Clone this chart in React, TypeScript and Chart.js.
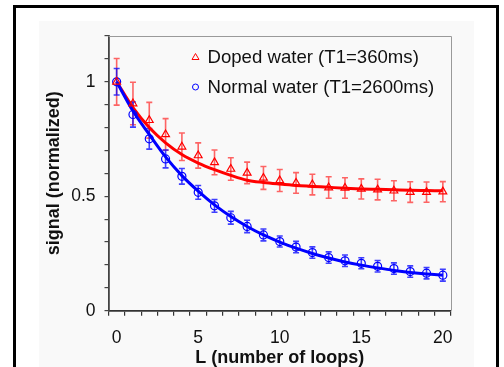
import { useEffect, useRef } from 'react';
import { Chart, registerables } from 'chart.js';

Chart.register(...registerables);

const loops = ['0', '1', '2', '3', '4', '5', '6', '7', '8', '9', '10', '11', '12', '13', '14', '15', '16', '17', '18', '19', '20'];
const yTickLabels = ['0', '0.5', '1'];

const dopedLabel = 'Doped water (T1=360ms)';
const dopedSignal = [1.0, 0.905, 0.832, 0.77, 0.716, 0.678, 0.648, 0.619, 0.602, 0.58, 0.569, 0.558, 0.551, 0.538, 0.536, 0.532, 0.529, 0.524, 0.518, 0.518, 0.52];
const dopedError = [0.102, 0.093, 0.078, 0.069, 0.06, 0.055, 0.054, 0.049, 0.047, 0.05, 0.048, 0.045, 0.045, 0.047, 0.045, 0.044, 0.045, 0.044, 0.045, 0.044, 0.044];
const dopedFit = [1.0, 0.887, 0.8, 0.733, 0.682, 0.645, 0.616, 0.591, 0.57, 0.56, 0.553, 0.547, 0.543, 0.539, 0.535, 0.532, 0.53, 0.528, 0.526, 0.525, 0.524];

const normalLabel = 'Normal water (T1=2600ms)';
const normalSignal = [1.0, 0.857, 0.751, 0.663, 0.587, 0.517, 0.458, 0.406, 0.368, 0.331, 0.302, 0.278, 0.254, 0.232, 0.218, 0.207, 0.194, 0.184, 0.171, 0.164, 0.155];
const normalError = [0.058, 0.055, 0.045, 0.039, 0.034, 0.03, 0.028, 0.028, 0.027, 0.026, 0.024, 0.025, 0.025, 0.025, 0.025, 0.024, 0.025, 0.025, 0.025, 0.025, 0.026];
const normalFit = [1.0, 0.872, 0.77, 0.672, 0.59, 0.522, 0.462, 0.411, 0.368, 0.331, 0.3, 0.273, 0.25, 0.23, 0.213, 0.199, 0.187, 0.176, 0.167, 0.16, 0.155];

const RED = '#ff0000';
const BLUE = '#0000ff';
const FONT = "'Liberation Sans', Arial, sans-serif";

const errorBarPlugin = {
  id: 'errorBars',
  beforeDatasetsDraw(chart: any) {
    const { ctx, scales } = chart;
    const sets = [
      { values: dopedSignal, errors: dopedError, color: 'rgba(255,0,0,0.6)' },
      { values: normalSignal, errors: normalError, color: 'rgba(0,0,255,0.75)' },
    ];
    ctx.save();
    ctx.lineWidth = 1.6;
    sets.forEach((s) => {
      ctx.strokeStyle = s.color;
      s.values.forEach((v, i) => {
        const x = scales.x.getPixelForValue(i);
        const yTop = scales.y.getPixelForValue(v + s.errors[i]);
        const yBot = scales.y.getPixelForValue(v - s.errors[i]);
        ctx.beginPath();
        ctx.moveTo(x, yTop);
        ctx.lineTo(x, yBot);
        ctx.moveTo(x - 3, yTop);
        ctx.lineTo(x + 3, yTop);
        ctx.moveTo(x - 3, yBot);
        ctx.lineTo(x + 3, yBot);
        ctx.stroke();
      });
    });
    ctx.restore();
  },
};

const frameAndLegendPlugin = {
  id: 'frameAndLegend',
  afterDraw(chart: any) {
    const { ctx, chartArea } = chart;
    ctx.save();
    ctx.strokeStyle = '#9a9a9a';
    ctx.lineWidth = 1;
    ctx.beginPath();
    ctx.moveTo(chartArea.left, chartArea.top + 0.5);
    ctx.lineTo(chartArea.right + 0.5, chartArea.top + 0.5);
    ctx.lineTo(chartArea.right + 0.5, chartArea.bottom);
    ctx.stroke();

    const items = [
      { label: dopedLabel, color: RED, style: 'triangle' },
      { label: normalLabel, color: BLUE, style: 'circle' },
    ];
    const mx = chartArea.left + 87;
    const y0 = chartArea.top + 21;
    ctx.font = `18.6px ${FONT}`;
    ctx.textBaseline = 'middle';
    ctx.textAlign = 'left';
    items.forEach((it, k) => {
      const y = y0 + k * 30;
      ctx.strokeStyle = it.color;
      ctx.lineWidth = 1;
      ctx.beginPath();
      if (it.style === 'triangle') {
        ctx.moveTo(mx, y - 3.5);
        ctx.lineTo(mx + 3.5, y + 2.5);
        ctx.lineTo(mx - 3.5, y + 2.5);
        ctx.closePath();
      } else {
        ctx.arc(mx, y, 3, 0, Math.PI * 2);
      }
      ctx.stroke();
      ctx.fillStyle = '#111';
      ctx.fillText(it.label, mx + 12, y + 1);
    });
    ctx.restore();
  },
};

export default function App() {
  const ref = useRef<HTMLCanvasElement>(null);

  useEffect(() => {
    if (!ref.current) return;
    const chart = new Chart(ref.current, {
      type: 'line',
      data: {
        labels: loops,
        datasets: [
          {
            label: dopedLabel,
            data: dopedSignal,
            showLine: false,
            pointStyle: 'triangle',
            pointRadius: 4.5,
            pointBorderWidth: 1.2,
            borderColor: RED,
            backgroundColor: 'rgba(0,0,0,0)',
            pointBackgroundColor: 'rgba(0,0,0,0)',
          },
          {
            label: normalLabel,
            data: normalSignal,
            showLine: false,
            pointStyle: 'circle',
            pointRadius: 4,
            pointBorderWidth: 1.2,
            borderColor: BLUE,
            backgroundColor: 'rgba(0,0,0,0)',
            pointBackgroundColor: 'rgba(0,0,0,0)',
          },
          {
            label: 'normal fit',
            data: normalFit,
            borderColor: BLUE,
            borderWidth: 3,
            pointRadius: 0,
            cubicInterpolationMode: 'monotone',
            fill: false,
          },
          {
            label: 'doped fit',
            data: dopedFit,
            borderColor: RED,
            borderWidth: 3,
            pointRadius: 0,
            cubicInterpolationMode: 'monotone',
            fill: false,
          },
        ],
      },
      options: {
        animation: false,
        responsive: false,
        layout: { padding: { left: 0, top: 36, right: 53, bottom: 0 } },
        plugins: { legend: { display: false }, tooltip: { enabled: false } },
        scales: {
          x: {
            type: 'category',
            offset: true,
            grid: {
              offset: true,
              drawOnChartArea: false,
              drawTicks: true,
              tickLength: 5,
              color: '#333',
              lineWidth: 1.2,
            },
            border: { display: true, color: '#333', width: 1.8 },
            ticks: {
              autoSkip: false,
              maxRotation: 0,
              padding: 12,
              color: '#111',
              font: { family: FONT, size: 17.5 },
              callback: (_v: any, i: number) => (i % 5 === 0 ? loops[i] : ''),
            },
            title: {
              display: true,
              text: 'L (number of loops)',
              color: '#111',
              font: { family: FONT, size: 18, weight: 'bold' },
              padding: { top: 0, bottom: 0 },
            },
            afterFit: (s: any) => {
              s.height = 58.3;
            },
          },
          y: {
            type: 'linear',
            min: 0,
            max: 1.2,
            grid: {
              drawOnChartArea: false,
              drawTicks: true,
              tickLength: 4,
              color: '#444',
              lineWidth: 1.2,
            },
            border: { display: true, color: '#444', width: 1.8 },
            ticks: {
              stepSize: 0.1,
              autoSkip: false,
              padding: 9,
              color: '#111',
              font: { family: FONT, size: 17.5 },
              callback: (v: any) => {
                const r = Math.round(Number(v) * 10);
                return r === 0 ? yTickLabels[0] : r === 5 ? yTickLabels[1] : r === 10 ? yTickLabels[2] : '';
              },
            },
            title: {
              display: true,
              text: 'signal (normalized)',
              color: '#111',
              font: { family: FONT, size: 18, weight: 'bold' },
              padding: { top: 43, bottom: 0 },
            },
            afterFit: (s: any) => {
              s.width = 108.5;
            },
          },
        },
      },
      plugins: [errorBarPlugin, frameAndLegendPlugin],
    } as any);
    return () => chart.destroy();
  }, []);

  return (
    <div style={{ position: 'fixed', left: 0, top: 0, width: 504, height: 367, overflow: 'hidden', background: '#fff' }}>
      <div
        style={{
          position: 'absolute',
          left: 13,
          top: 5,
          width: 486,
          height: 420,
          boxSizing: 'border-box',
          border: '3px solid #000',
          borderBottom: 'none',
        }}
      />
      <div style={{ position: 'absolute', left: 39, top: 21, width: 435, height: 400, background: '#f9f9f9' }} />
      <canvas ref={ref} width={504} height={369} style={{ position: 'absolute', left: 0, top: 0, display: 'block' }} />
    </div>
  );
}
